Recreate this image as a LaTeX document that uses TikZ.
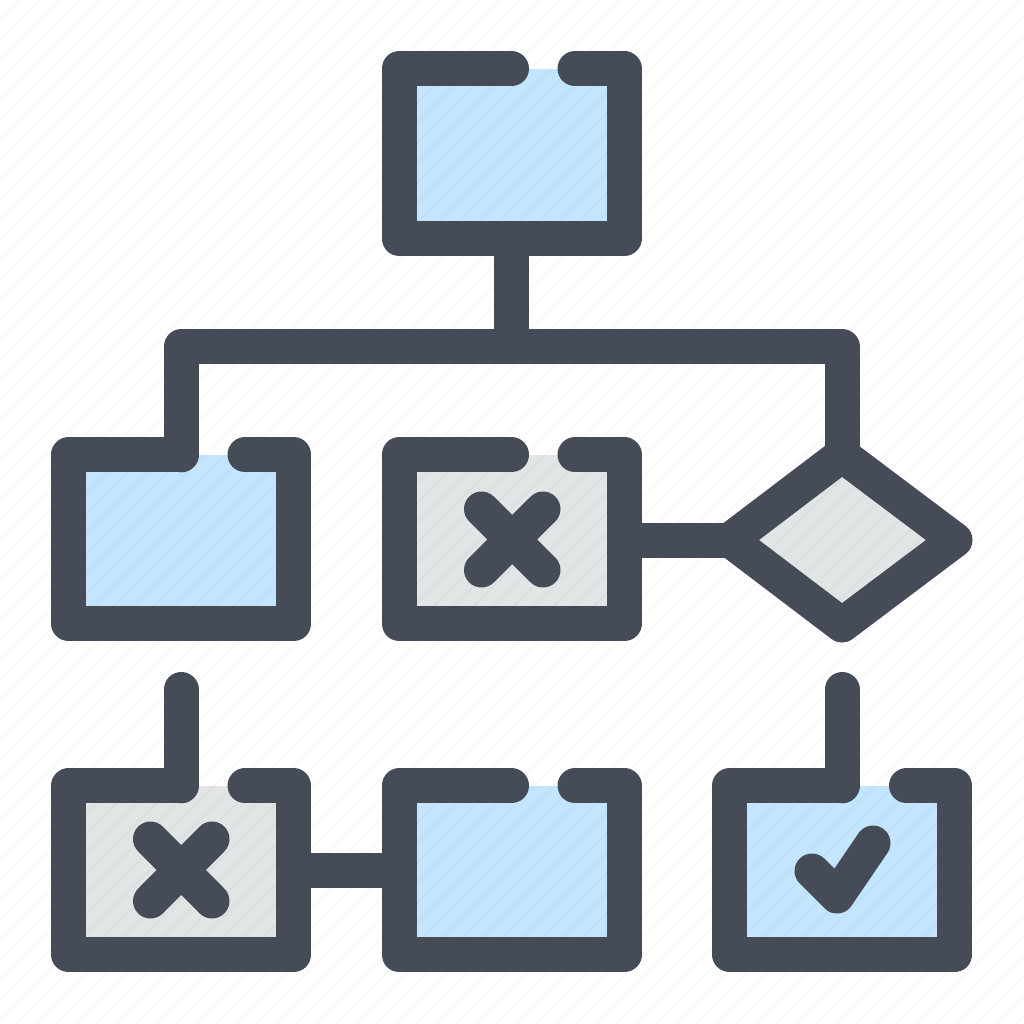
\documentclass[tikz,border=0pt]{standalone}
\usetikzlibrary{calc}
\definecolor{ink}{HTML}{464C57}
\definecolor{sky}{HTML}{C3E6FE}
\definecolor{ash}{HTML}{E2E5E6}
\tikzset{
  wire/.style={draw=ink,line width=35pt,line cap=round,line join=round},
  link/.style={draw=ink,line width=35pt,line cap=butt},
  skyfill/.style={fill=sky,draw=none},
  ashfill/.style={fill=ash,draw=none},
  stripe/.style={draw=black,opacity=.025,line width=2.4pt}
}
\begin{document}
\begin{tikzpicture}[x=1pt,y=-1pt]
\useasboundingbox (0,0) rectangle (1024,1024);
\fill[white] (0,0) rectangle (1024,1024);
% box corners
\coordinate (aTL) at (399,68.8);    \coordinate (aBR) at (624,238.5);
\coordinate (bTL) at (68.8,454.8);  \coordinate (bBR) at (293.8,623.8);
\coordinate (cTL) at (399,454.8);   \coordinate (cBR) at (624,623.8);
\coordinate (dTL) at (68.8,785.8);  \coordinate (dBR) at (293.8,954.8);
\coordinate (eTL) at (399,785.8);   \coordinate (eBR) at (624,954.8);
\coordinate (fTL) at (729.8,785.8); \coordinate (fBR) at (954.8,954.8);
% diamond
\coordinate (gN) at (842,455);
\coordinate (gE) at (955,540);
\coordinate (gS) at (842,625);
\coordinate (gW) at (730,540);
% fills
\path[skyfill] (aTL) rectangle (aBR);
\path[skyfill] (bTL) rectangle (bBR);
\path[ashfill] (cTL) rectangle (cBR);
\path[ashfill] (dTL) rectangle (dBR);
\path[skyfill] (eTL) rectangle (eBR);
\path[skyfill] (fTL) rectangle (fBR);
\path[ashfill] (gN) -- (gE) -- (gS) -- (gW) -- cycle;
% faint background stripes
\begin{scope}
\clip (0,0) rectangle (1024,1024);
\foreach \k in {0,20,...,2060} {
  \draw[stripe] (\k,0) -- (0,\k);
}
\end{scope}
% box outlines with a gap in the top edge
\draw[wire] (511.5,68.8) -- (aTL) -- (aTL|-aBR) -- (aBR) -- (aBR|-aTL) -- (575,68.8);
\draw[wire] (181,454.8) -- (bTL) -- (bTL|-bBR) -- (bBR) -- (bBR|-bTL) -- (245,454.8);
\draw[wire] (511.5,454.8) -- (cTL) -- (cTL|-cBR) -- (cBR) -- (cBR|-cTL) -- (575,454.8);
\draw[wire] (181,785.8) -- (dTL) -- (dTL|-dBR) -- (dBR) -- (dBR|-dTL) -- (245,785.8);
\draw[wire] (511.5,785.8) -- (eTL) -- (eTL|-eBR) -- (eBR) -- (eBR|-eTL) -- (575,785.8);
\draw[wire] (842,785.8) -- (fTL) -- (fTL|-fBR) -- (fBR) -- (fBR|-fTL) -- (906.5,785.8);
\draw[wire] (gN) -- (gE) -- (gS) -- (gW) -- cycle;
% connectors
\coordinate (trunk) at (511.5,346.8);
\draw[link] (511.5,238.5) -- (trunk);
\draw[wire] (181,454.8) -- (181,346.8) -- (842,346.8) -- (gN);
\draw[link] (cBR|-gW) -- (gW);
\draw[link] (dBR|-0,870) -- (eTL|-0,870);
\draw[wire] (181,689.5) -- (181,785.8);
\draw[wire] (842,689.5) -- (842,785.8);
% crosses
\draw[wire] (481.5,509) -- (543,570) (543,509) -- (481.5,570);
\draw[wire] (150.5,839) -- (212,901) (212,839) -- (150.5,901);
% check
\draw[wire] (812,871) -- (837,896) -- (873,843);
\end{tikzpicture}
\end{document}
